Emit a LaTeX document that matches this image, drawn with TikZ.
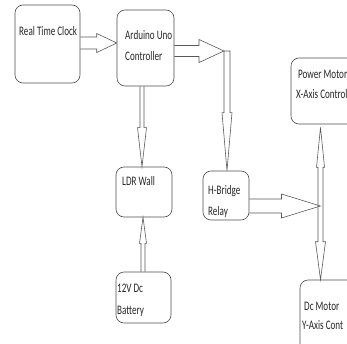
\documentclass[tikz,border=0pt]{standalone}
\usepackage{fontspec}
\setmainfont[FakeStretch=0.7]{Carlito}
\usetikzlibrary{calc}
% horizontal block arrow: #1 tail, #2 tip, #3 shaft half-width, #4 head half-width, #5 head length
\newcommand\blkH[5]{%
  \draw[conn] let \p1=(#1), \p2=(#2) in
    (\x1,{\y1+#3}) -- ({\x2-#5},{\y1+#3}) -- ({\x2-#5},{\y1+#4}) -- (\x2,\y1)
    -- ({\x2-#5},{\y1-#4}) -- ({\x2-#5},{\y1-#3}) -- (\x1,{\y1-#3});}
% downward block arrow (#6: optional closing)
\newcommand\blkD[6]{%
  \draw[conn] let \p1=(#1), \p2=(#2) in
    ({\x1-#3},\y1) -- ({\x1-#3},{\y2+#5}) -- ({\x1-#4},{\y2+#5}) -- (\x1,\y2)
    -- ({\x1+#4},{\y2+#5}) -- ({\x1+#3},{\y2+#5}) -- ({\x1+#3},\y1) #6;}
% upward block arrow
\newcommand\blkU[5]{%
  \draw[conn] let \p1=(#1), \p2=(#2) in
    ({\x1-#3},\y1) -- ({\x1-#3},{\y2-#5}) -- ({\x1-#4},{\y2-#5}) -- (\x1,\y2)
    -- ({\x1+#4},{\y2-#5}) -- ({\x1+#3},{\y2-#5}) -- ({\x1+#3},\y1);}
\begin{document}
\begin{tikzpicture}[x=1pt,y=-1pt,
  box/.style={draw=black!70, line width=0.6pt, rounded corners=8pt, inner sep=0pt},
  conn/.style={draw=black!65, line width=0.6pt, line join=miter},
  lbl/.style={anchor=mid west, inner sep=0pt, font=\fontsize{13}{15}\selectfont, text=black!85}]
\useasboundingbox (0,0) rectangle (347,344);
\clip (0,0) rectangle (347,344);
% boxes
\node[box, minimum width=65pt, minimum height=78pt] (rtc) at (47.5,44) {};
\node[box, minimum width=57pt, minimum height=76pt] (ard) at (145.5,48) {};
\node[box, minimum width=56pt, minimum height=50pt] (ldr) at (144,192) {};
\node[box, minimum width=55pt, minimum height=51pt] (bat) at (143.5,297.5) {};
\node[box, minimum width=46pt, minimum height=49pt] (hb) at (226,195.5) {};
\node[box, minimum width=80pt, minimum height=66pt] (pm) at (331,91) {};
\node[box, minimum width=80pt, minimum height=72pt] (dc) at (340,316) {};
% texts
\node[lbl] (t1) at (19,33) {Real Time Clock};
\node[lbl] (t2) at (125,37) {Arduino Uno};
\node[lbl] (t3) at (125,58) {Controller};
\node[lbl] (t4) at (122,183) {LDR Wall};
\node[lbl] (t5) at (117,290) {12V Dc};
\node[lbl] (t6) at (117,312) {Battery};
\node[lbl] (t7) at (208,192) {H-Bridge};
\node[lbl] (t8) at (208,213) {Relay};
\node[lbl] (t9) at (298,76) {Power Motor};
\node[lbl] (t10) at (296,96) {X-Axis Control};
\node[lbl] (t11) at (304,308) {Dc Motor};
\node[lbl] (t12) at (302,327) {Y-Axis Cont};
% helper coordinates
\coordinate (y1) at (0,43);
\coordinate (j1) at (227,51);
\coordinate (y2) at (0,206);
\coordinate (j2) at (320.5,206);
\coordinate (c1) at (142,0);
\coordinate (c2) at (143,0);
% connectors
\blkH{rtc.east |- y1}{ard.west |- y1}{6pt}{9.5pt}{20pt}
\blkH{ard.east |- j1}{$(j1)+(-3,0)$}{5.5pt}{11.5pt}{25pt}
\blkD{j1}{j1 |- hb.north}{3pt}{5pt}{58pt}{-- cycle}
\blkH{hb.east |- y2}{j2}{7pt}{12pt}{39pt}
\blkU{j2}{$(j2 |- pm.south)+(0,3)$}{2.5pt}{4pt}{40pt}
\blkD{j2}{j2 |- dc.north}{2.5pt}{5pt}{38pt}{}
\blkD{c1 |- ard.south}{c1 |- ldr.north}{2pt}{4.5pt}{39pt}{}
\blkU{c2 |- bat.north}{c2 |- ldr.south}{2pt}{3.5pt}{26pt}
\end{tikzpicture}
\end{document}
